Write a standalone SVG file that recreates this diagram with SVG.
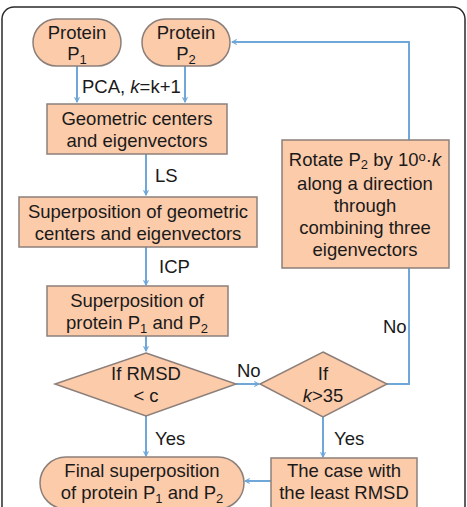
<svg xmlns="http://www.w3.org/2000/svg" width="467" height="507" viewBox="0 0 467 507">
<defs>
<style>
.n{fill:#fccbaa;stroke:#8c7f7a;stroke-width:1.5}
.t{font-family:"Liberation Sans",Arial,sans-serif;font-size:18.5px;fill:#1a1a1a;text-anchor:middle}
.l{font-family:"Liberation Sans",Arial,sans-serif;font-size:18.5px;fill:#1a1a1a}
.s{font-size:13px}
.c{fill:none;stroke:#6fa8d8;stroke-width:2}
</style>
<marker id="a" viewBox="0 0 10 10" refX="9" refY="5" markerWidth="6" markerHeight="6" orient="auto" markerUnits="userSpaceOnUse">
<path d="M1,1 L9,5 L1,9" fill="none" stroke="#6fa8d8" stroke-width="1.8"/>
</marker>
</defs>
<rect x="2" y="7" width="463" height="520" rx="12" fill="#fff" stroke="#2a2a2a" stroke-width="1.5"/>
<g id="connectors">
<path class="c" d="M77,66 V102" marker-end="url(#a)"/>
<path class="c" d="M185,66 V102" marker-end="url(#a)"/>
<path class="c" d="M146,154 V195" marker-end="url(#a)"/>
<path class="c" d="M146,247 V285" marker-end="url(#a)"/>
<path class="c" d="M146,336 V351" marker-end="url(#a)"/>
<path class="c" d="M146,416 V456" marker-end="url(#a)"/>
<path class="c" d="M236,384 H259" marker-end="url(#a)"/>
<path class="c" d="M387,384 H409 V42 H232" marker-end="url(#a)"/>
<path class="c" d="M323,417 V457" marker-end="url(#a)"/>
<path class="c" d="M271,481 H245" marker-end="url(#a)"/>
<text class="l" x="82" y="93">PCA, <tspan font-style="italic">k</tspan>=k+1</text>
<text class="l" x="155" y="182">LS</text>
<text class="l" x="159" y="273">ICP</text>
<text class="l" x="237" y="377">No</text>
<text class="l" x="383" y="333">No</text>
<text class="l" x="155" y="445">Yes</text>
<text class="l" x="334" y="445">Yes</text>
</g>
<g id="p1">
<rect class="n" x="33" y="19" width="88" height="47" rx="23.5"/>
<text class="t" x="77" y="39">Protein</text>
<text class="t" x="77" y="60">P<tspan class="s" dy="4">1</tspan></text>
</g>
<g id="p2">
<rect class="n" x="142" y="19" width="88" height="47" rx="23.5"/>
<text class="t" x="186" y="39">Protein</text>
<text class="t" x="186" y="60">P<tspan class="s" dy="4">2</tspan></text>
</g>
<g id="geo">
<rect class="n" x="47" y="104" width="180" height="50"/>
<text class="t" x="137" y="125">Geometric centers</text>
<text class="t" x="137" y="147">and eigenvectors</text>
</g>
<g id="supgeo">
<rect class="n" x="19" y="197" width="238" height="50"/>
<text class="t" x="138" y="218">Superposition of geometric</text>
<text class="t" x="138" y="240">centers and eigenvectors</text>
</g>
<g id="supprot">
<rect class="n" x="47" y="286" width="181" height="50"/>
<text class="t" x="137" y="307">Superposition of</text>
<text class="t" x="137" y="329">protein P<tspan class="s" dy="4">1</tspan><tspan dy="-4"> and P</tspan><tspan class="s" dy="4">2</tspan></text>
</g>
<g id="rmsd">
<path class="n" d="M146,353 L236,384 L146,416 L55,384 Z"/>
<text class="t" x="146" y="380">If RMSD</text>
<text class="t" x="146" y="402">&lt; c</text>
</g>
<g id="k35">
<path class="n" d="M323,352 L387,384 L323,417 L260,384 Z"/>
<text class="t" x="323" y="380">If</text>
<text class="t" x="323" y="402"><tspan font-style="italic">k</tspan>&gt;35</text>
</g>
<g id="rotate">
<rect class="n" x="282" y="140" width="167" height="128"/>
<text class="t" x="365" y="166">Rotate P<tspan class="s" dy="3">2</tspan><tspan dy="-3"> by 10</tspan><tspan class="s" dy="-5">o</tspan><tspan dy="5">·</tspan><tspan font-style="italic">k</tspan></text>
<text class="t" x="365" y="190">along a direction</text>
<text class="t" x="365" y="212">through</text>
<text class="t" x="365" y="234">combining three</text>
<text class="t" x="365" y="256">eigenvectors</text>
</g>
<g id="final">
<rect class="n" x="40" y="457" width="204" height="52" rx="26"/>
<text class="t" x="142" y="477">Final superposition</text>
<text class="t" x="142" y="499">of protein P<tspan class="s" dy="4">1</tspan><tspan dy="-4"> and P</tspan><tspan class="s" dy="4">2</tspan></text>
</g>
<g id="least">
<rect class="n" x="271" y="458" width="146" height="55"/>
<text class="t" x="344" y="477">The case with</text>
<text class="t" x="344" y="499">the least RMSD</text>
</g>
</svg>
